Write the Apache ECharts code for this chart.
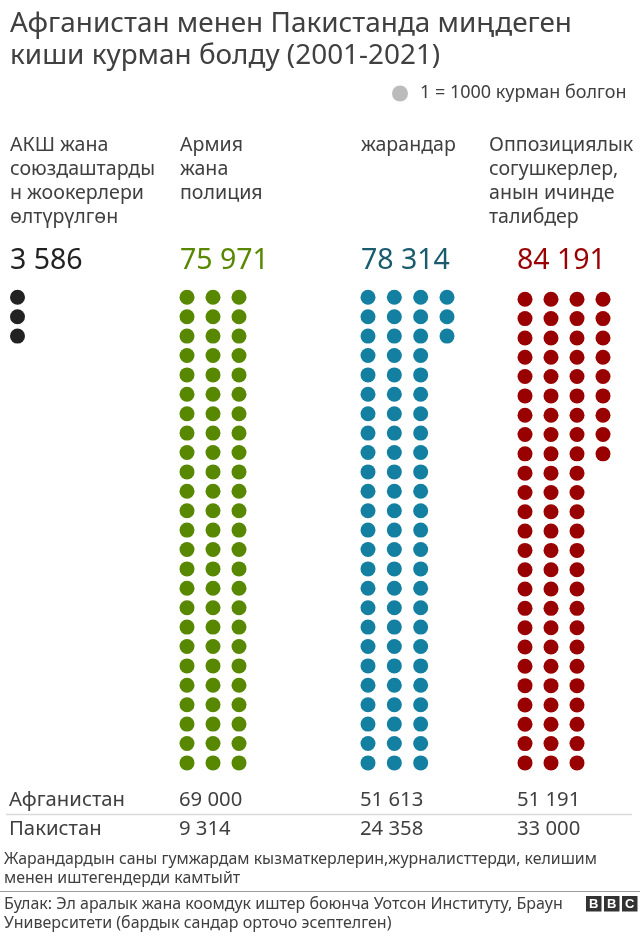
<!DOCTYPE html>
<html>
<head>
<meta charset="utf-8">
<style>
html,body{margin:0;padding:0;background:#fff;}
#main{width:640px;height:938px;}
</style>
<script src="https://cdn.jsdelivr.net/npm/echarts@6/dist/echarts.min.js"></script>
</head>
<body>
<div id="main"></div>
<script>
var fontName = '"Noto Sans"';

// dots per column, 1 dot = 1000 deaths
var usColumns = [3];
var armyColumns = [25, 25, 25];
var civilColumns = [25, 25, 25, 3];
var oppColumns = [25, 25, 25, 9];

var totals = ['3 586', '75 971', '78 314', '84 191'];
var afghanValues = ['69 000', '51 613', '51 191'];
var pakistanValues = ['9 314', '24 358', '33 000'];
var rowNames = ['Афганистан', 'Пакистан'];

var usLabel = ['АКШ жана', 'союздаштарды', 'н жоокерлери', 'өлтүрүлгөн'];
var armyLabel = ['Армия', 'жана', 'полиция'];
var civilLabel = ['жарандар'];
var oppLabel = ['Оппозициялык', 'согушкерлер,', 'анын ичинде', 'талибдер'];

var titleLines = ['Афганистан менен Пакистанда миңдеген', 'киши курман болду (2001-2021)'];
var legendText = '1 = 1000 курман болгон';
var noteLines = ['Жарандардын саны гумжардам кызматкерлерин,журналисттерди, келишим', 'менен иштегендерди камтыйт'];
var sourceLines = ['Булак: Эл аралык жана коомдук иштер боюнча Уотсон Институту, Браун', 'Университети (бардык сандар орточо эсептелген)'];

var panels = [
	{ cols: usColumns, color: '#222222', left: 17.5, width: 78, top: 297.3, height: 465.6 },
	{ cols: armyColumns, color: '#588700', left: 187, width: 78, top: 297.3, height: 465.6 },
	{ cols: civilColumns, color: '#1380a1', left: 368, width: 79, top: 297.3, height: 465.6 },
	{ cols: oppColumns, color: '#990000', left: 525, width: 78, top: 299.3, height: 463.6 }
];

function dotsFrom(cols) {
	var out = [];
	for (var c = 0; c < cols.length; c++) {
		for (var r = 0; r < cols[c]; r++) {
			out.push([c, r]);
		}
	}
	return out;
}

var grids = [], xAxes = [], yAxes = [], series = [];
panels.forEach(function (p, i) {
	grids.push({ left: p.left, top: p.top, width: p.width, height: p.height, containLabel: false });
	xAxes.push({ type: 'value', gridIndex: i, min: 0, max: 3, show: false });
	yAxes.push({ type: 'value', gridIndex: i, min: 0, max: 24, inverse: true, show: false });
	series.push({
		type: 'scatter',
		xAxisIndex: i,
		yAxisIndex: i,
		symbol: 'circle',
		symbolSize: 15,
		itemStyle: { color: p.color, opacity: 1 },
		silent: true,
		clip: false,
		data: dotsFrom(p.cols)
	});
});

function txt(x, y, str, size, color, extra) {
	var style = { x: x, y: y, text: str, fontFamily: fontName, fontSize: size, fill: color,
		textVerticalAlign: 'middle', textAlign: 'left' };
	for (var k in extra || {}) style[k] = extra[k];
	return { type: 'text', silent: true, style: style };
}
function lines(x, y, step, arr, size, color, extra) {
	return arr.map(function (s, i) { return txt(x, y + i * step, s, size, color, extra); });
}

var textColor = '#404040';
var els = [];
els = els.concat(lines(10, 24, 32, titleLines, 27.9, textColor));
els.push({ type: 'circle', silent: true, shape: { cx: 400, cy: 93.5, r: 8 }, style: { fill: '#bbbbbb' } });
els.push(txt(420, 93, legendText, 18, textColor));

[[10, usLabel], [180, armyLabel], [361, civilLabel], [489, oppLabel]].forEach(function (a) {
	els = els.concat(lines(a[0], 145, 24.2, a[1], 19.6, textColor));
});

var totalX = [10, 180, 361, 517];
var totalColors = ['#222222', '#588700', '#1a5b6e', '#990000'];
totals.forEach(function (t, i) {
	els.push(txt(totalX[i], 261, t, 28.5, totalColors[i]));
});

var tableX = [179, 360, 517];
els.push(txt(9, 800, rowNames[0], 20.3, textColor));
els.push(txt(9, 829, rowNames[1], 20.3, textColor));
afghanValues.forEach(function (v, i) { els.push(txt(tableX[i], 800, v, 20.3, textColor)); });
pakistanValues.forEach(function (v, i) { els.push(txt(tableX[i], 829, v, 20.3, textColor)); });
els.push({ type: 'line', silent: true, shape: { x1: 6, y1: 814.5, x2: 632, y2: 814.5 }, style: { stroke: '#d9d9d9', lineWidth: 1.5 } });

els = els.concat(lines(4, 859, 19, noteLines, 15.9, textColor));
els.push({ type: 'line', silent: true, shape: { x1: 0, y1: 891.5, x2: 640, y2: 891.5 }, style: { stroke: '#9a9a9a', lineWidth: 1 } });
els = els.concat(lines(4, 904, 19, sourceLines, 16, textColor));

// bbc logo
['B', 'B', 'C'].forEach(function (ch, i) {
	var bx = 586 + i * 18;
	els.push({ type: 'rect', silent: true, shape: { x: bx, y: 896, width: 15.5, height: 15.5 }, style: { fill: '#333333' } });
	els.push(txt(bx + 7.75, 904, ch, 13, '#ffffff', { textAlign: 'center', fontWeight: 'bold', fontFamily: '"Liberation Sans"' }));
});

var chart = echarts.init(document.getElementById('main'), null, { renderer: 'canvas' });
chart.setOption({
	animation: false,
	backgroundColor: '#ffffff',
	grid: grids,
	xAxis: xAxes,
	yAxis: yAxes,
	series: series,
	graphic: { elements: els }
});
</script>
</body>
</html>
